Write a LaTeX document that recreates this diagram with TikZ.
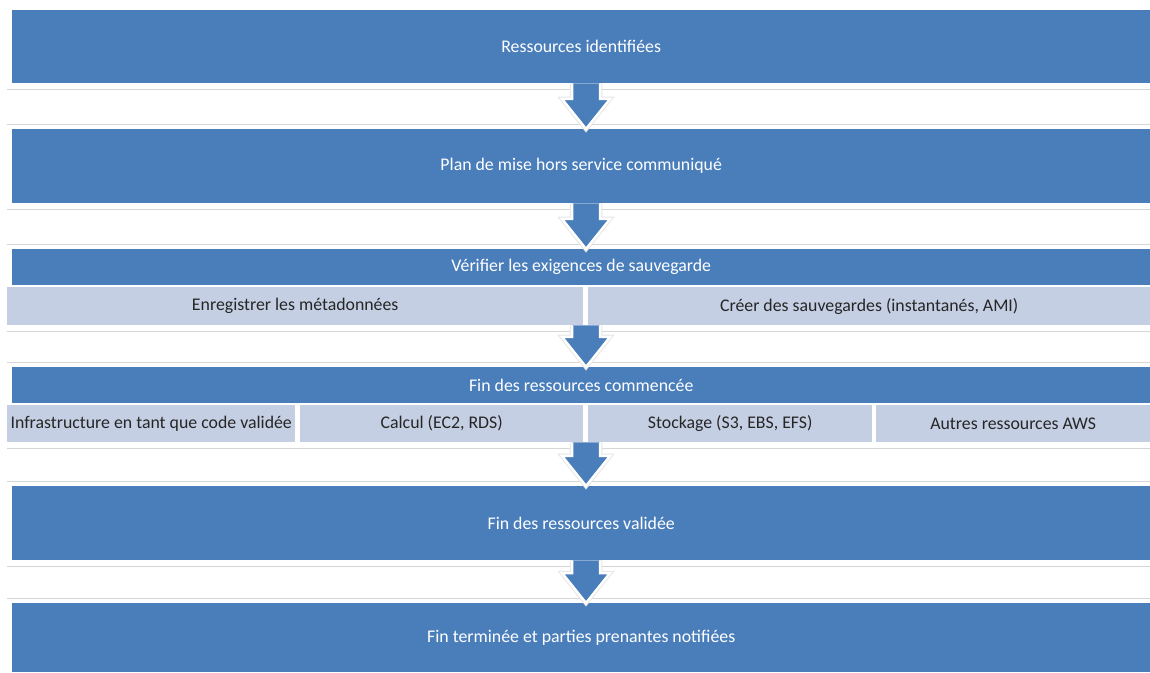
\documentclass[tikz,border=0pt]{standalone}
\usepackage{fontspec}
\setmainfont{Carlito}
\usetikzlibrary{calc}
\definecolor{barblue}{HTML}{4A7EBB}
\definecolor{subblue}{HTML}{C4CFE3}
\definecolor{rulegray}{HTML}{D6D6D6}
\definecolor{subtext}{HTML}{262626}

% block arrow between two rows, with the thin rules left and right
\newcommand{\flowarrow}[2]{%
  \coordinate (top) at (axis |- #1.south);
  \coordinate (tip) at (axis |- #2.north);
  \path (top) ++(0,-6) coordinate (ga) (tip) ++(0,5) coordinate (gb);
  \draw[rule] (7,0 |- ga) -- (1150,0 |- ga) (7,0 |- gb) -- (1150,0 |- gb);
  \path[blockarrow] ($(top)+(-14,0)$) -- ($(tip)+(-14,30)$) -- ($(tip)+(-24,30)$) -- (tip)
    -- ($(tip)+(24,30)$) -- ($(tip)+(14,30)$) -- ($(top)+(14,0)$);
}

\begin{document}
\begin{tikzpicture}[x=1pt, y=1pt,
    bar/.style={fill=barblue, text=white, anchor=north west, inner sep=0pt,
      font=\fontsize{17.8}{21}\selectfont},
    sub/.style={fill=subblue, text=subtext, anchor=north west, inner sep=0pt,
      minimum height=38pt, font=\fontsize{17.8}{21}\selectfont},
    rule/.style={draw=rulegray, line width=0.8pt},
    blockarrow/.style={fill=barblue, draw=white, line width=2.5pt, line join=miter,
      preaction={draw=rulegray!60, line width=4.5pt}}]
  \useasboundingbox (0,0) rectangle (1150,672);
  \coordinate (axis) at (586,0);

  \node[bar, minimum width=1138pt, minimum height=73pt] (b1) at (12,662) {Ressources identifiées};
  \node[bar, minimum width=1138pt, minimum height=74pt] (b2) at (12,543) {Plan de mise hors service communiqué};

  \node[bar, minimum width=1138pt, minimum height=36pt] (b3) at (12,423) {Vérifier les exigences de sauvegarde};
  \node[sub, minimum width=576pt] (s31) at (7,385) {Enregistrer les métadonnées};
  \node[sub, minimum width=562pt] (s32) at (588,385) {Créer des sauvegardes (instantanés, AMI)};

  \node[bar, minimum width=1138pt, minimum height=36pt] (b4) at (12,305) {Fin des ressources commencée};
  \node[sub, minimum width=288pt, minimum height=37pt] (s41) at (7,267) {Infrastructure en tant que code validée};
  \node[sub, minimum width=283pt, minimum height=37pt] (s42) at (300,267) {Calcul (EC2, RDS)};
  \node[sub, minimum width=284pt, minimum height=37pt] (s43) at (588,267) {Stockage (S3, EBS, EFS)};
  \node[sub, minimum width=274pt, minimum height=37pt] (s44) at (876,267) {Autres ressources AWS};

  \node[bar, minimum width=1138pt, minimum height=74pt] (b5) at (12,186) {Fin des ressources validée};
  \node[bar, minimum width=1138pt, minimum height=69pt] (b6) at (12,69) {Fin terminée et parties prenantes notifiées};

  \flowarrow{b1}{b2}
  \flowarrow{b2}{b3}
  \flowarrow{s31}{b4}
  \flowarrow{s41}{b5}
  \flowarrow{b5}{b6}
\end{tikzpicture}
\end{document}
